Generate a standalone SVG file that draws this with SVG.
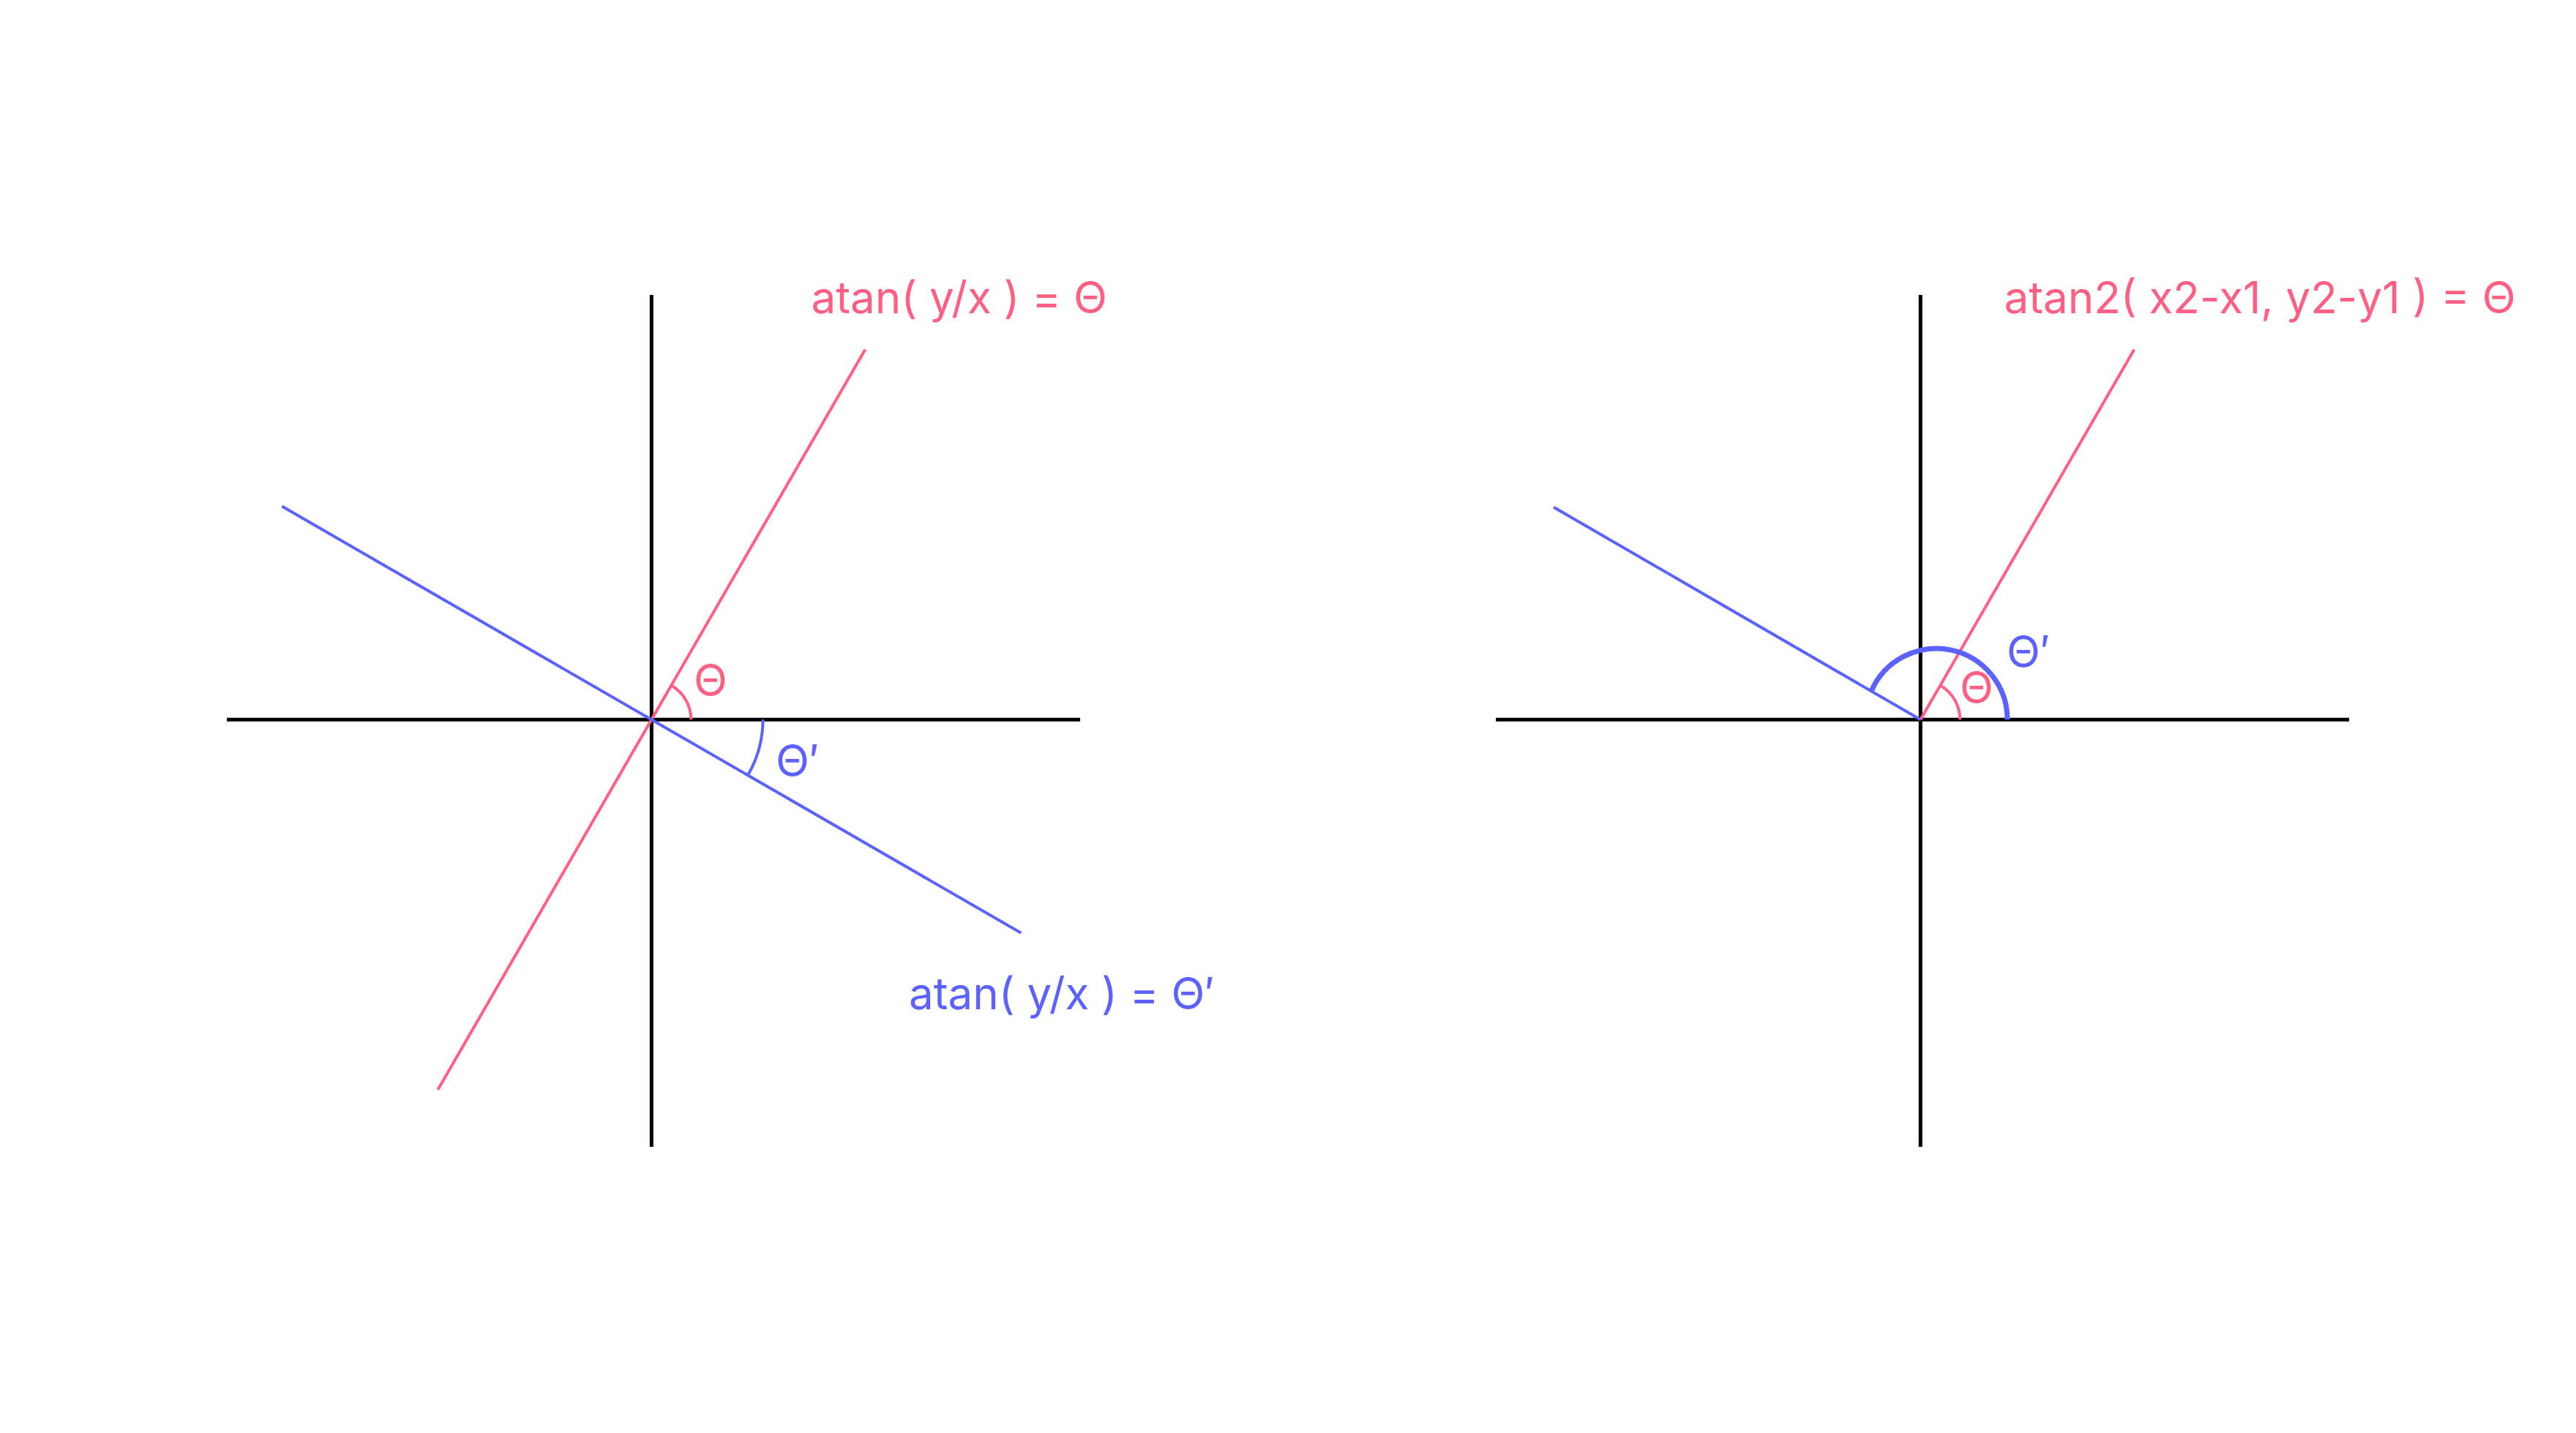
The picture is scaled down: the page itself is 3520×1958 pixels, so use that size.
<svg xmlns="http://www.w3.org/2000/svg" width="3520" height="1958" viewBox="0 0 3520 1958">
<style>
.bg{fill:#ffffff}
.axis{stroke:#000000;stroke-width:5;fill:none}
.pink{stroke:#FF5F82;stroke-width:4;fill:none}
.blue{stroke:#5B62FF;stroke-width:4;fill:none}
.bluethick{stroke:#5B62FF;stroke-width:7;fill:none}
.t{font-family:Inter,"Noto Sans","DejaVu Sans",sans-serif}
.tp{fill:#FF5F82}
.tb{fill:#5B62FF}
.head{font-size:60px}
.lab{font-size:60px}
</style>
<rect class="bg" x="0" y="0" width="3520" height="1958"/>
<g id="connectors">
<g id="left-axes">
<line class="axis" x1="310" y1="983.3" x2="1476" y2="983.3"/>
<line class="axis" x1="890.3" y1="403" x2="890.3" y2="1567"/>
</g>
<g id="right-axes">
<line class="axis" x1="2044" y1="983.3" x2="3210" y2="983.3"/>
<line class="axis" x1="2624.3" y1="403" x2="2624.3" y2="1567"/>
</g>
<g id="left-lines">
<line class="pink" x1="598.3" y1="1489" x2="1182.3" y2="477.5"/>
<line class="blue" x1="385.3" y1="691.8" x2="1395.3" y2="1274.8"/>
<path class="pink" d="M944.3 983.3 A54 54 0 0 0 917.3 936.5"/>
<path class="blue" d="M1042.5 983.3 A152 152 0 0 1 1021.9 1059.3"/>
</g>
<g id="right-lines">
<line class="pink" x1="2624.3" y1="983.3" x2="2916.3" y2="477.5"/>
<line class="blue" x1="2624.3" y1="983.3" x2="2123" y2="693"/>
<path class="pink" d="M2678.3 983.3 A54 54 0 0 0 2651.3 936.5"/>
<path class="bluethick" d="M2743 983.3 A97 97 0 0 0 2557 944.5"/>
</g>
</g>
<g id="label-left-theta"><text class="t tp lab" x="948" y="951">Θ</text></g>
<g id="label-left-thetaprime"><text class="t tb lab" x="1060" y="1061">Θ′</text></g>
<g id="label-right-theta"><text class="t tp lab" x="2678" y="961">Θ</text></g>
<g id="label-right-thetaprime"><text class="t tb lab" x="2742" y="912">Θ′</text></g>
<g id="title-left-atan"><text class="t tp head" x="1108.5" y="428">atan( y/x ) = Θ</text></g>
<g id="title-left-atan-prime"><text class="t tb head" x="1242" y="1379">atan( y/x ) = Θ′</text></g>
<g id="title-right-atan2"><text class="t tp head" x="2738.5" y="428">atan2( x2-x1, y2-y1 ) = Θ</text></g>
</svg>
